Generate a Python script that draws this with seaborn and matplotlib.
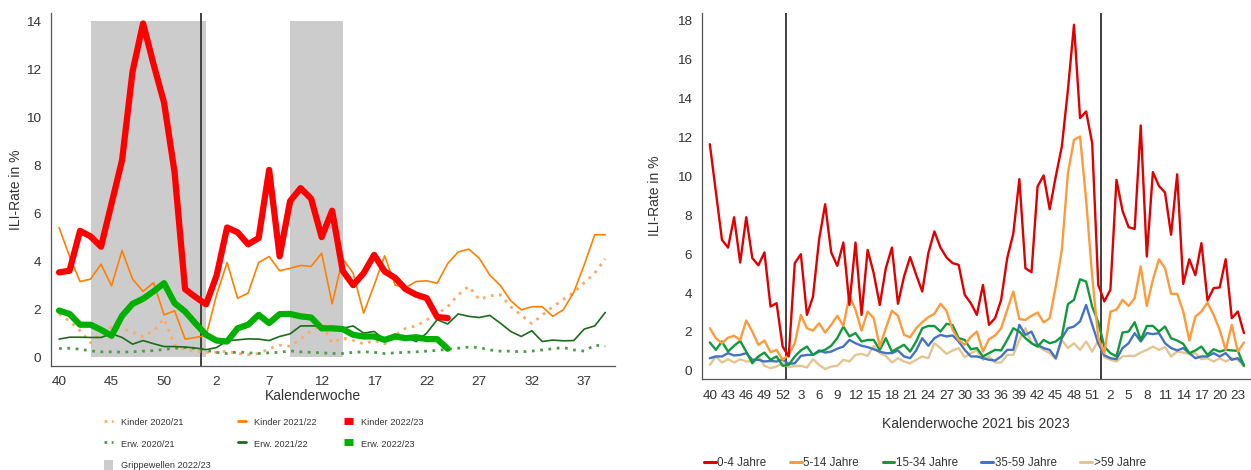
import numpy as np
import pandas as pd
import seaborn as sns
import matplotlib.pyplot as plt
from matplotlib.lines import Line2D
from matplotlib.patches import Patch
from matplotlib.ticker import MultipleLocator

sns.set_style("white")
plt.rcParams['font.family'] = ['Liberation Sans', 'DejaVu Sans']

# ---- left chart: season axis week 40 .. 53, 1 .. 39
weeks_left = list(range(40, 54)) + list(range(1, 40))

kinder_2021 = [1.8, 1.5, 1.1, 0.6, 1.0, 1.25, 1.2, 1.05, 0.85, 1.1,
               1.6, 0.5, 0.3, 0.25, 0.2, 0.2, 0.25, 0.15, 0.1, 0.15,
               0.35, 0.5, 0.45, 0.75, 1.1, 1.35, 0.6, 0.8, 0.7, 0.55,
               0.7, 0.55, 0.9, 1.2, 1.3, 1.55, 1.8, 2.1, 2.6, 2.95,
               2.4, 2.55, 2.6, 2.1, 1.75, 1.4, 1.75, 2.1, 2.4, 2.7,
               3.1, 3.5, 4.1]
erw_2021 = [0.36, 0.37, 0.33, 0.26, 0.22, 0.22, 0.21, 0.22, 0.25, 0.27,
            0.32, 0.37, 0.4, 0.36, 0.28, 0.2, 0.15, 0.22, 0.18, 0.15,
            0.18, 0.2, 0.26, 0.22, 0.2, 0.18, 0.15, 0.15, 0.2, 0.22,
            0.2, 0.15, 0.18, 0.2, 0.22, 0.25, 0.28, 0.33, 0.37, 0.42,
            0.4, 0.3, 0.25, 0.25, 0.22, 0.25, 0.3, 0.35, 0.4, 0.3,
            0.25, 0.5, 0.45]
kinder_2122 = [5.4, 4.2, 3.15, 3.25, 3.87, 2.97, 4.44, 3.25, 2.74, 3.1,
               1.76, 1.93, 0.75, 0.82, 0.89, 2.6, 3.94, 2.45, 2.67, 3.94,
               4.19, 3.6, 3.7, 3.82, 3.78, 4.33, 2.22, 4.1, 3.5, 1.83,
               3.0, 4.22, 3.0, 2.9, 3.15, 3.18, 3.08, 3.9, 4.38, 4.5,
               4.12, 3.42, 2.99, 2.35, 1.97, 2.1, 2.1, 1.7, 1.97, 2.7,
               3.85, 5.1, 5.1]
erw_2122 = [0.75, 0.83, 0.83, 0.82, 0.82, 0.97, 0.82, 0.54, 0.69, 0.56,
            0.44, 0.44, 0.42, 0.38, 0.31, 0.4, 0.68, 0.72, 0.76, 0.75,
            0.69, 0.86, 0.97, 1.3, 1.3, 1.3, 1.2, 1.2, 1.3, 1.0,
            1.07, 0.72, 0.96, 0.83, 0.65, 1.0, 1.56, 1.38, 1.8, 1.7,
            1.65, 1.74, 1.42, 1.07, 0.86, 1.1, 0.65, 0.71, 0.68, 0.69,
            1.17, 1.3, 1.86]
kinder_2223 = [3.53, 3.6, 5.26, 5.03, 4.6, 6.4, 8.2, 11.9, 13.9, 12.2,
               10.6, 7.7, 2.83, 2.5, 2.2, 3.4, 5.4, 5.2, 4.7, 4.96,
               7.8, 4.2, 6.5, 7.04, 6.6, 5.0, 6.1, 3.6, 3.0, 3.5,
               4.26, 3.57, 3.3, 2.83, 2.6, 2.46, 1.67, 1.63]
erw_2223 = [1.94, 1.8, 1.35, 1.35, 1.14, 0.89, 1.72, 2.22, 2.43, 2.74,
            3.08, 2.25, 1.9, 1.4, 0.93, 0.69, 0.65, 1.2, 1.35, 1.76,
            1.42, 1.79, 1.8, 1.7, 1.65, 1.2, 1.2, 1.17, 0.93, 0.86,
            0.86, 0.72, 0.86, 0.79, 0.83, 0.75, 0.75, 0.35]
# flu waves 2022/23: (first week, last week)
grippewellen = [(43, 1), (9, 14)]

# ---- right chart: week 40/2021 .. 24/2023
weeks_right = list(range(40, 53)) + list(range(1, 53)) + list(range(1, 25))

age_0_4 = [11.66, 9.2, 6.74, 6.34, 7.9, 5.57, 7.9, 5.8, 5.43, 6.09,
           3.31, 3.48, 1.25, 0.74, 5.54, 6.0, 2.88, 3.82, 6.74, 8.57,
           6.09, 5.4, 6.6, 3.39, 6.6, 2.88, 6.22, 5.02, 3.39, 5.28,
           6.34, 3.45, 4.85, 5.85, 4.94, 4.08, 6.05, 7.17, 6.34, 5.83,
           5.54, 5.45, 3.91, 3.48, 2.88, 4.42, 2.37, 2.71, 3.65, 5.8,
           7.05, 9.86, 5.28, 5.07, 9.48, 10.05, 8.31, 10.0, 11.54, 14.45,
           17.8, 13.0, 13.34, 11.71, 4.42, 3.57, 4.17, 9.82, 8.23, 7.39,
           7.3, 12.62, 5.88, 10.22, 9.51, 9.17, 7.0, 10.11, 4.47, 5.74,
           4.92, 6.57, 3.62, 4.25, 4.29, 5.74, 2.71, 3.05, 1.94]
age_5_14 = [2.19, 1.68, 1.42, 1.71, 1.8, 1.59, 2.59, 2.02, 1.34, 1.56,
            0.96, 1.08, 0.57, 0.82, 1.42, 2.88, 2.19, 2.07, 2.45, 1.97,
            2.37, 2.83, 2.31, 3.86, 3.14, 2.07, 3.05, 2.71, 1.25, 2.19,
            3.09, 2.83, 1.85, 1.73, 2.19, 2.5, 2.76, 2.93, 3.45, 3.09,
            2.11, 1.59, 1.34, 1.75, 2.02, 0.99, 1.63, 1.82, 2.19, 3.14,
            4.08, 2.66, 2.62, 2.83, 3.0, 2.49, 2.71, 4.34, 6.22, 10.17,
            11.88, 12.05, 8.79, 4.85, 1.7, 0.9, 3.05, 3.14, 3.65, 3.34,
            3.74, 5.37, 3.34, 4.68, 5.74, 5.28, 3.96, 3.96, 3.05, 1.56,
            2.79, 3.05, 3.51, 2.88, 2.11, 1.08, 2.37, 0.99, 1.46]
age_15_34 = [1.46, 1.08, 1.51, 0.99, 1.29, 1.54, 0.99, 0.39, 0.74, 0.94,
             0.57, 0.74, 0.26, 0.31, 0.74, 1.05, 1.25, 0.82, 0.99, 1.08,
             1.29, 1.68, 2.28, 1.77, 1.94, 1.51, 1.59, 1.59, 1.08, 1.68,
             0.99, 1.17, 1.34, 0.99, 1.51, 2.19, 2.31, 2.31, 2.02, 2.42,
             2.35, 1.68, 1.59, 1.11, 1.17, 0.74, 0.91, 1.08, 1.05, 1.59,
             2.19, 2.02, 1.68, 1.42, 1.25, 1.59, 1.42, 1.51, 1.77, 3.43,
             3.65, 4.71, 4.59, 3.3, 2.5, 1.25, 0.91, 0.74, 1.97, 2.02,
             2.5, 1.59, 2.31, 2.31, 2.02, 2.28, 1.68, 1.56, 1.39, 0.91,
             1.05, 1.25, 0.82, 1.11, 0.99, 1.08, 1.05, 1.03, 0.26]
age_35_59 = [0.65, 0.74, 0.74, 0.91, 0.79, 0.82, 0.91, 0.57, 0.57, 0.48,
             0.51, 0.48, 0.57, 0.36, 0.39, 0.77, 0.82, 0.82, 1.05, 0.94,
             0.99, 1.14, 1.25, 1.59, 1.42, 1.29, 1.22, 1.11, 0.99, 0.91,
             0.91, 1.05, 0.74, 0.65, 1.05, 1.68, 1.29, 1.68, 1.85, 1.77,
             1.82, 1.51, 1.08, 0.74, 0.74, 0.65, 0.57, 0.53, 0.74, 1.08,
             1.08, 2.37, 1.85, 2.02, 1.34, 1.17, 1.08, 0.65, 1.68, 2.19,
             2.28, 2.54, 3.39, 2.37, 1.42, 0.8, 0.65, 0.6, 1.17, 1.42,
             1.94, 1.51, 1.94, 1.89, 1.94, 1.42, 1.17, 1.05, 1.17, 0.91,
             0.65, 0.74, 0.74, 0.91, 0.74, 0.91, 0.57, 0.65, 0.31]
age_60 = [0.31, 0.74, 0.43, 0.6, 0.43, 0.6, 0.48, 0.51, 0.74, 0.26,
          0.14, 0.22, 0.39, 0.19, 0.26, 0.26, 0.17, 0.6, 0.31, 0.09,
          0.22, 0.26, 0.57, 0.48, 0.82, 0.87, 0.77, 1.29, 0.91, 0.77,
          0.43, 0.65, 0.48, 0.39, 0.57, 0.74, 0.65, 1.42, 1.17, 0.87,
          1.05, 1.17, 0.7, 0.91, 1.05, 0.57, 0.74, 0.43, 0.43, 0.82,
          0.82, 1.59, 2.19, 1.42, 1.25, 1.08, 0.91, 0.6, 1.59, 1.17,
          1.42, 1.08, 1.51, 0.99, 1.56, 0.7, 0.57, 0.48, 0.74, 0.77,
          0.77, 0.94, 1.08, 1.25, 1.08, 1.22, 0.74, 0.99, 0.94, 0.87,
          0.91, 0.6, 0.65, 0.48, 0.65, 0.48, 0.65, 0.57, 0.22]

txt = '#333333'
ax_col = '#555555'

fig = plt.figure(figsize=(12.51, 4.70), dpi=100)
ax1 = fig.add_axes([0.0408, 0.221, 0.451, 0.751])
ax2 = fig.add_axes([0.561, 0.194, 0.438, 0.779])

# ---------------- left
pos_l = np.arange(len(weeks_left))
for a, b in grippewellen:
    x0, x1 = weeks_left.index(a), weeks_left.index(b)
    ax1.fill_between([x0, x1], 0, 14, color='#cccccc', lw=0, zorder=0)
ax1.axvline(weeks_left.index(1) - 0.5, color='#404040', lw=1.4, zorder=1)

left_series = [
    (kinder_2021, '#ffa868', 2.0, (0, (1, 2.0))),
    (erw_2021, '#4f9a4f', 2.0, (0, (1, 2.0))),
    (kinder_2122, '#ff8000', 1.2, '-'),
    (erw_2122, '#1c6b1c', 1.2, '-'),
    (erw_2223, '#00b000', 4.5, '-'),
    (kinder_2223, '#ff0000', 4.5, '-'),
]
for vals, col, lw, ls in left_series:
    df = pd.DataFrame({'pos': pos_l[:len(vals)], 'ili': vals})
    sns.lineplot(data=df, x='pos', y='ili', ax=ax1, color=col, lw=lw,
                 linestyle=ls, legend=False, zorder=2)

ax1.set_xlim(-0.76, 52.95)
ax1.set_ylim(-0.375, 14.33)
ax1.set_xticks(pos_l[::5])
ax1.set_xticklabels([str(w) for w in weeks_left[::5]])
ax1.set_yticks(np.arange(0, 15, 2))
ax1.set_xlabel('Kalenderwoche', fontsize=10, color=txt, labelpad=0)
ax1.xaxis.set_label_coords(0.465, -0.065)
ax1.set_ylabel('ILI-Rate in %', fontsize=10, color=txt, labelpad=2.5)

# ---------------- right
pos_r = np.arange(len(weeks_right))
ax2.axvline(weeks_right.index(1) - 0.5, color='#404040', lw=1.4, zorder=1)
ax2.axvline(len(weeks_right) - 24 - 0.5, color='#404040', lw=1.4, zorder=1)

right_series = [
    ('0-4 Jahre', age_0_4, '#e00000'),
    ('5-14 Jahre', age_5_14, '#ff9a3c'),
    ('15-34 Jahre', age_15_34, '#109a3c'),
    ('35-59 Jahre', age_35_59, '#4472c4'),
    ('>59 Jahre', age_60, '#e3c691'),
]
df_r = pd.DataFrame({'pos': np.tile(pos_r, len(right_series)),
                     'ili': np.concatenate([s[1] for s in right_series]),
                     'gruppe': np.repeat([s[0] for s in right_series], len(pos_r))})
pal = {s[0]: s[2] for s in right_series}
sns.lineplot(data=df_r, x='pos', y='ili', hue='gruppe', palette=pal,
             hue_order=[s[0] for s in right_series][::-1],
             ax=ax2, lw=1.7, legend=False, zorder=2)

ax2.set_xlim(-1.32, 88.96)
ax2.set_ylim(-0.41, 18.42)
ax2.set_xticks(pos_r[::3])
ax2.set_xticklabels([str(w) for w in weeks_right[::3]])
ax2.xaxis.set_minor_locator(MultipleLocator(1))
ax2.set_yticks(np.arange(0, 19, 2))
ax2.set_xlabel('Kalenderwoche 2021 bis 2023', fontsize=10, color=txt, labelpad=10.5)
ax2.set_ylabel('ILI-Rate in %', fontsize=10, color=txt, labelpad=10.5)

for ax in (ax1, ax2):
    for s in ('top', 'right'):
        ax.spines[s].set_visible(False)
    for s in ('left', 'bottom'):
        ax.spines[s].set_color(ax_col)
        ax.spines[s].set_linewidth(0.9)
    ax.tick_params(axis='both', which='major', direction='out', length=5,
                   width=0.8, color=ax_col, labelsize=9.7, labelcolor=txt, pad=2)
    ax.grid(False)
ax2.tick_params(axis='x', which='minor', direction='out', length=2.5,
                width=0.8, color=ax_col)
ax2.tick_params(axis='x', which='major', pad=3)

# legends
h1 = [Line2D([], [], color='#ffa868', lw=2, ls=(0, (1, 1.6))),
      Line2D([], [], color='#4f9a4f', lw=2, ls=(0, (1, 1.6))),
      Patch(facecolor='#cccccc', edgecolor='none'),
      Line2D([], [], color='#ff8000', lw=2),
      Line2D([], [], color='#1c6b1c', lw=2),
      Line2D([], [], color='#ff0000', lw=5, solid_capstyle='butt'),
      Line2D([], [], color='#00b000', lw=5, solid_capstyle='butt')]
l1 = ['Kinder 2020/21', 'Erw. 2020/21', 'Grippewellen 2022/23',
      'Kinder 2021/22', 'Erw. 2021/22', 'Kinder 2022/23', 'Erw. 2022/23']
fig.legend(h1, l1, loc='upper left', bbox_to_anchor=(104 / 1251, 1 - 417 / 470),
           ncol=3, frameon=False, fontsize=6.6, handlelength=0.95,
           handleheight=1.4, handletextpad=0.85, columnspacing=3.0,
           labelspacing=1.17, borderpad=0, borderaxespad=0, labelcolor=txt)

h2 = [Line2D([], [], color=s[2], lw=2.2) for s in right_series]
fig.legend(h2, [s[0] for s in right_series], loc='center left',
           bbox_to_anchor=(704 / 1251, 1 - 463 / 470), ncol=5, frameon=False,
           fontsize=8.4, handlelength=1.0, handletextpad=0.15, columnspacing=2.0,
           borderpad=0, borderaxespad=0, labelcolor=txt)

fig.savefig('out.png', dpi=100)
